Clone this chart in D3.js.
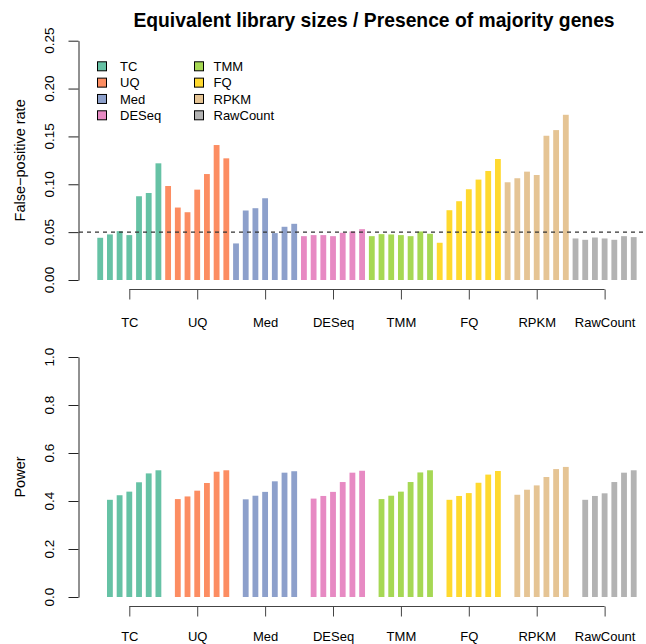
<!DOCTYPE html>
<html>
<head>
<meta charset="utf-8">
<script src="https://cdn.jsdelivr.net/npm/d3@7"></script>
<style>
  html, body { margin: 0; padding: 0; background: #ffffff; }
  svg { display: block; font-family: "Liberation Sans", Arial, Helvetica, sans-serif; }
</style>
</head>
<body>
<svg id="chart" width="646" height="644"></svg>
<script>
// ---------- data ----------
const methods = ["TC", "UQ", "Med", "DESeq", "TMM", "FQ", "RPKM", "RawCount"];
const colors  = ["#66C2A5", "#FC8D62", "#8DA0CB", "#E78AC3", "#A6D854", "#FFD92F", "#E5C494", "#B3B3B3"];

// false-positive rate (7 bars per method)
const fprTC       = [0.0441, 0.0476, 0.0510, 0.0469, 0.0875, 0.0909, 0.1219];
const fprUQ       = [0.0982, 0.0757, 0.0708, 0.0944, 0.1107, 0.1410, 0.1271];
const fprMed      = [0.0382, 0.0726, 0.0750, 0.0854, 0.0490, 0.0556, 0.0587];
const fprDESeq    = [0.0458, 0.0469, 0.0469, 0.0458, 0.0493, 0.0507, 0.0531];
const fprTMM      = [0.0458, 0.0479, 0.0476, 0.0469, 0.0458, 0.0507, 0.0483];
const fprFQ       = [0.0389, 0.0729, 0.0823, 0.0948, 0.1049, 0.1139, 0.1264];
const fprRPKM     = [0.1021, 0.1063, 0.1132, 0.1097, 0.1507, 0.1566, 0.1726];
const fprRawCount = [0.0434, 0.0420, 0.0444, 0.0434, 0.0420, 0.0458, 0.0448];

// power (6 bars per method)
const powTC       = [0.405, 0.424, 0.439, 0.478, 0.515, 0.528];
const powUQ       = [0.408, 0.419, 0.443, 0.475, 0.522, 0.528];
const powMed      = [0.407, 0.422, 0.438, 0.482, 0.518, 0.524];
const powDESeq    = [0.410, 0.421, 0.438, 0.479, 0.518, 0.526];
const powTMM      = [0.408, 0.422, 0.439, 0.479, 0.519, 0.528];
const powFQ       = [0.405, 0.421, 0.433, 0.476, 0.510, 0.525];
const powRPKM     = [0.426, 0.447, 0.465, 0.500, 0.533, 0.542];
const powRawCount = [0.405, 0.421, 0.432, 0.479, 0.518, 0.528];

const fprTicks   = [0, 0.05, 0.10, 0.15, 0.20, 0.25];
const powerTicks = [0, 0.2, 0.4, 0.6, 0.8, 1.0];
const fprThreshold = 0.05;

const titleText = "Equivalent library sizes / Presence of majority genes";
const yLabelTop = "False\u2212positive rate";
const yLabelBottom = "Power";

const fprSeries   = [fprTC, fprUQ, fprMed, fprDESeq, fprTMM, fprFQ, fprRPKM, fprRawCount];
const powerSeries = [powTC, powUQ, powMed, powDESeq, powTMM, powFQ, powRPKM, powRawCount];

// ---------- layout ----------
const svg = d3.select("#chart");
svg.append("rect").attr("width", 646).attr("height", 644).attr("fill", "#ffffff");

const slotsPerGroup = 7;
const nSlots = methods.length * slotsPerGroup;
const x = d3.scaleLinear().domain([0, nSlots]).range([97.3, 97.3 + nSlots * 9.7]);
const barW = x(0.6) - x(0);
const groupCenter = i => i * slotsPerGroup + 3.3;

const yTop = d3.scaleLinear().domain([0, 0.25]).range([280, 40.7]);
const yBot = d3.scaleLinear().domain([0, 1]).range([597, 357]);

const fprTable = [];
fprSeries.forEach((arr, g) => arr.forEach((v, k) => fprTable.push({g, slot: g * slotsPerGroup + k, v})));
const powTable = [];
powerSeries.forEach((arr, g) => arr.forEach((v, k) => powTable.push({g, slot: g * slotsPerGroup + k + 1, v})));

// ---------- title ----------
svg.append("text")
  .attr("x", 374).attr("y", 26.5)
  .attr("text-anchor", "middle")
  .attr("font-size", 19.3).attr("font-weight", "bold")
  .attr("fill", "#000")
  .text(titleText);

function drawPanel(yScale, table, ticks, fmt, yLabel, axisY, labelBaseline) {
  const g = svg.append("g");
  // bars
  g.selectAll("rect.bar").data(table).enter().append("rect")
    .attr("class", "bar")
    .attr("x", d => x(d.slot))
    .attr("width", barW)
    .attr("y", d => yScale(d.v))
    .attr("height", d => yScale(0) - yScale(d.v))
    .attr("fill", d => colors[d.g]);

  // y axis
  const yAxis = d3.axisLeft(yScale).tickValues(ticks).tickSize(10).tickSizeOuter(0).tickFormat("");
  const ya = g.append("g").attr("transform", "translate(78.5,0)").call(yAxis);
  ya.select(".domain").attr("stroke", "#222");
  ya.selectAll(".tick line").attr("stroke", "#222");
  g.selectAll("text.ytick").data(ticks).enter().append("text")
    .attr("class", "ytick")
    .attr("transform", d => `translate(53.5,${yScale(d)}) rotate(-90)`)
    .attr("text-anchor", "middle")
    .attr("font-size", 13.5)
    .attr("fill", "#000")
    .text(d => fmt(d));

  // y label
  const [r0, r1] = yScale.range();
  g.append("text")
    .attr("transform", `translate(25,${(r0 + r1) / 2}) rotate(-90)`)
    .attr("text-anchor", "middle")
    .attr("font-size", 14.5)
    .attr("fill", "#000")
    .text(yLabel);

  // x axis
  const xAxis = d3.axisBottom(x)
    .tickValues(methods.map((m, i) => groupCenter(i)))
    .tickSize(10).tickSizeOuter(0)
    .tickFormat((d, i) => methods[i]);
  const xa = g.append("g").attr("transform", `translate(0,${axisY})`).call(xAxis);
  xa.select(".domain").remove();
  xa.append("line")
    .attr("x1", x(groupCenter(0))).attr("x2", x(groupCenter(methods.length - 1)))
    .attr("y1", 0).attr("y2", 0)
    .attr("stroke", "#444");
  xa.selectAll(".tick line").attr("stroke", "#444");
  xa.selectAll(".tick text")
    .attr("y", labelBaseline - axisY).attr("dy", null)
    .attr("font-size", 13).attr("font-family", "Liberation Sans, Arial, sans-serif")
    .attr("fill", "#000");
  return g;
}

const topPanel = drawPanel(yTop, fprTable, fprTicks, d3.format(".2f"), yLabelTop, 289.5, 326.5);
// dashed threshold line
topPanel.append("line")
  .attr("x1", 79).attr("x2", 644)
  .attr("y1", yTop(fprThreshold)).attr("y2", yTop(fprThreshold))
  .attr("stroke", "#333").attr("stroke-width", 1.2)
  .attr("stroke-dasharray", "4,4");

drawPanel(yBot, powTable, powerTicks, d3.format(".1f"), yLabelBottom, 606.5, 641);

// ---------- legend ----------
const legend = svg.append("g");
const legItems = methods.map((m, i) => ({m, i, col: Math.floor(i / 4), row: i % 4}));
const legX = [97, 194];
const legTextX = [120, 213.5];
const legY = d3.scaleLinear().domain([0, 3]).range([66.3, 115.3]);
legend.selectAll("rect").data(legItems).enter().append("rect")
  .attr("x", d => legX[d.col] + 0.5)
  .attr("y", d => legY(d.row) - 4.5)
  .attr("width", 9).attr("height", 9)
  .attr("fill", d => colors[d.i])
  .attr("stroke", "#000").attr("stroke-width", 1);
legend.selectAll("text").data(legItems).enter().append("text")
  .attr("x", d => legTextX[d.col])
  .attr("y", d => legY(d.row) + 4.7)
  .attr("font-size", 13)
  .attr("fill", "#000")
  .text(d => d.m);
</script>
</body>
</html>
